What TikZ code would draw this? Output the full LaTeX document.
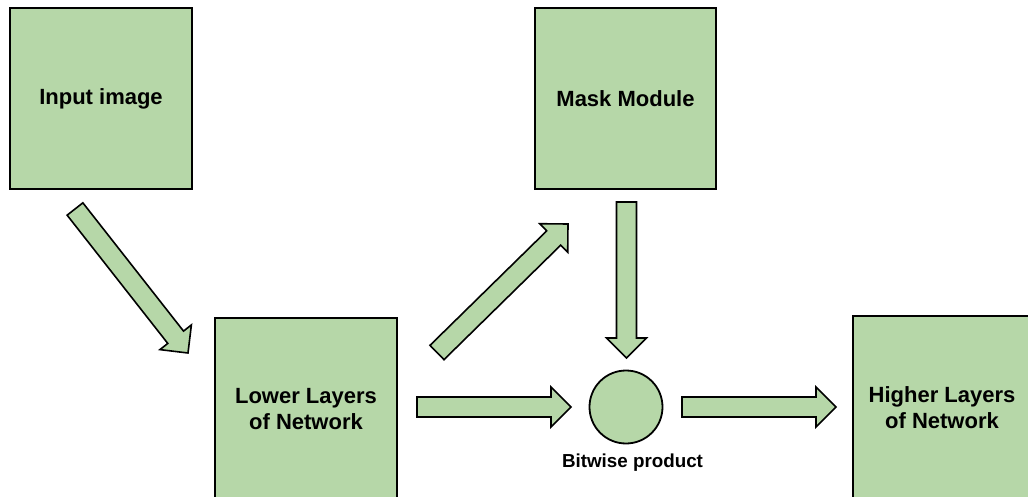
\documentclass[tikz,border=0pt]{standalone}
\usepackage{fontspec}
\setmainfont{Liberation Sans}
\usetikzlibrary{calc}
\definecolor{boxgreen}{HTML}{B6D7A8}
\tikzset{
  block/.style={draw=black, line width=1.8pt, fill=boxgreen, align=center,
    inner sep=0pt, font=\bfseries\fontsize{22}{26}\selectfont},
  dot/.style={circle, draw=black, line width=1.8pt, fill=boxgreen,
    minimum size=73pt, inner sep=0pt},
  caption/.style={font=\bfseries\fontsize{18.8}{22}\selectfont, inner sep=0pt},
  arrowbody/.style={draw=black, line width=1.6pt, fill=boxgreen, line join=miter},
}
% block arrow from tail #1 to tip #2: shaft 20pt wide, head 40pt wide, 20pt long
\newcommand\fatarrow[2]{%
  \coordinate (#1-hb) at ($(#2)!20pt!(#1)$);
  \draw[arrowbody]
    ($(#1)!10pt!90:(#2)$) -- ($(#1-hb)!10pt!90:(#2)$) --
    ($(#1-hb)!20pt!90:(#2)$) -- (#2) --
    ($(#1-hb)!20pt!-90:(#2)$) -- ($(#1-hb)!10pt!-90:(#2)$) --
    ($(#1)!10pt!-90:(#2)$) -- cycle;}
\begin{document}
\begin{tikzpicture}[x=1pt, y=-1pt]
  \useasboundingbox (0,0) rectangle (1028,497);

  % boxes
  \node[block, minimum width=182pt, minimum height=181pt] (input) at (101,98.5) {Input image};
  \node[block, minimum width=181pt, minimum height=181pt] (mask) at (625.5,98.5) {Mask Module};
  \node[block, minimum width=182pt, minimum height=182pt] (lower) at (306,409) {Lower Layers\\of Network};
  \node[block, minimum width=178pt, minimum height=184pt] (higher) at (942,408) {Higher Layers\\of Network};

  % product junction
  \node[dot] (prod) at (626,407) {};
  \node[caption] (prodlbl) at (632.5,463) {Bitwise product};

  % arrow end points
  \coordinate (a1t) at (75,209);    \coordinate (a1h) at (188,353);
  \coordinate (a2t) at (437,352.5); \coordinate (a2h) at (568,224);
  \coordinate (a3t) at (626.5,202); \coordinate (a3h) at (626.5,358);
  \coordinate (a4t) at (417,407);   \coordinate (a4h) at (571,407);
  \coordinate (a5t) at (682,407);   \coordinate (a5h) at (836,407);

  \fatarrow{a1t}{a1h}
  \fatarrow{a2t}{a2h}
  \fatarrow{a3t}{a3h}
  \fatarrow{a4t}{a4h}
  \fatarrow{a5t}{a5h}
\end{tikzpicture}
\end{document}
